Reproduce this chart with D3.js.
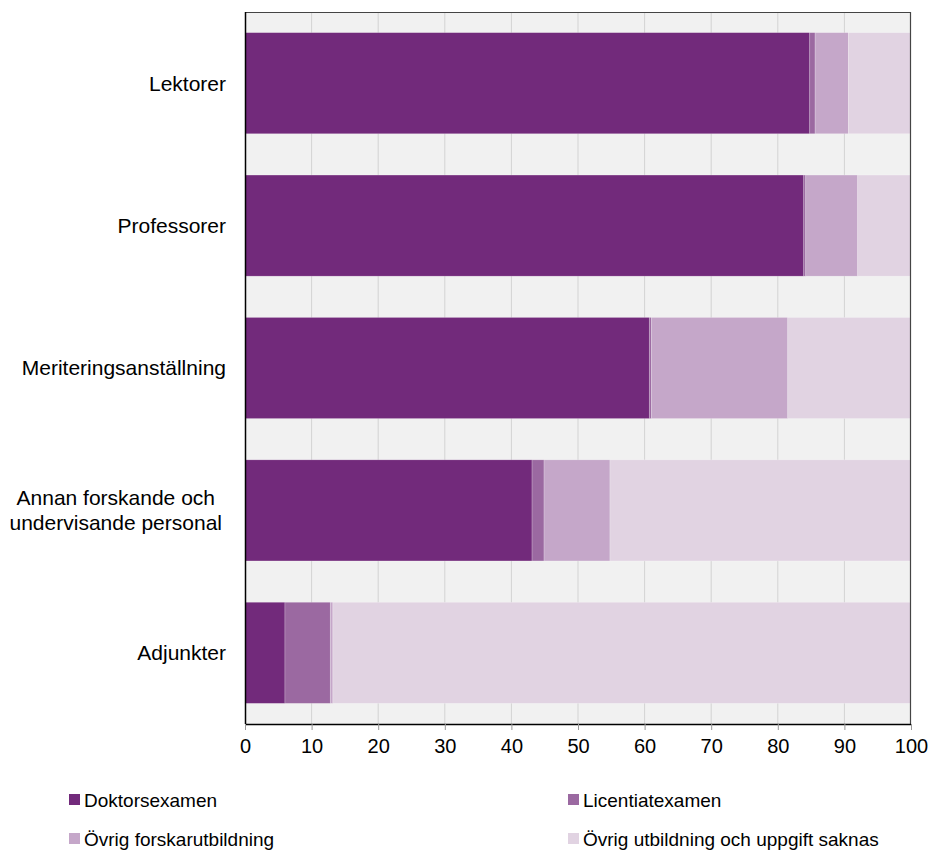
<!DOCTYPE html>
<html>
<head>
<meta charset="utf-8">
<script src="https://cdn.jsdelivr.net/npm/d3@7.9.0/dist/d3.min.js"></script>
<style>
  body { margin: 0; background: #fff; }
  svg { display: block; font-family: "Liberation Sans", Arial, sans-serif; }
</style>
</head>
<body>
<div id="chart"></div>
<script>
const categories = [
  "Lektorer",
  "Professorer",
  "Meriteringsanställning",
  "Annan forskande och undervisande personal",
  "Adjunkter",
];
const seriesNames = [
  "Doktorsexamen",
  "Licentiatexamen",
  "Övrig forskarutbildning",
  "Övrig utbildning och uppgift saknas",
];
const doktor = [84.8, 83.9, 60.7, 43.1, 6.0];
const licentiat = [0.8, 0.3, 0.3, 1.8, 6.8];
const forskar = [5.0, 7.8, 20.5, 9.9, 0.4];
const ovrig = [9.4, 8.0, 18.5, 45.2, 86.8];
const xTicks = [0, 10, 20, 30, 40, 50, 60, 70, 80, 90, 100];
const colors = ["#722a7b", "#9b69a1", "#c5a7c9", "#e1d3e2"];

const width = 930;
const height = 850;
const margin = { top: 12, right: 19, bottom: 126, left: 245 };
const innerW = width - margin.left - margin.right;
const innerH = height - margin.top - margin.bottom;

const rows = categories.map((c, i) => ({
  category: c,
  [seriesNames[0]]: doktor[i],
  [seriesNames[1]]: licentiat[i],
  [seriesNames[2]]: forskar[i],
  [seriesNames[3]]: ovrig[i],
}));
const stacked = d3.stack().keys(seriesNames)(rows);

const svg = d3.select("#chart").append("svg")
  .attr("width", width)
  .attr("height", height);

const g = svg.append("g")
  .attr("transform", `translate(${margin.left},${margin.top})`);

const x = d3.scaleLinear().domain([0, 100]).range([0, innerW]);
const y = d3.scaleBand().domain(categories).range([0, innerH])
  .paddingInner(0.29).paddingOuter(0.145);

// plot background
g.append("rect")
  .attr("width", innerW)
  .attr("height", innerH)
  .attr("fill", "#f1f1f1");

// vertical gridlines
g.append("g")
  .selectAll("line")
  .data(xTicks.slice(1, -1))
  .join("line")
  .attr("x1", (d) => x(d))
  .attr("x2", (d) => x(d))
  .attr("y1", 0)
  .attr("y2", innerH)
  .attr("stroke", "#d3d3d3")
  .attr("stroke-width", 1);

// bars
g.append("g")
  .selectAll("g")
  .data(stacked)
  .join("g")
  .attr("fill", (d, i) => colors[i])
  .selectAll("rect")
  .data((d) => d)
  .join("rect")
  .attr("x", (d) => x(d[0]))
  .attr("width", (d) => x(d[1]) - x(d[0]))
  .attr("y", (d) => y(d.data.category))
  .attr("height", y.bandwidth())
  .attr("stroke", "#ffffff")
  .attr("stroke-width", 0.6)
  .attr("stroke-opacity", 0.35);

// top and right frame
g.append("path")
  .attr("d", `M0,0.5H${innerW - 0.5}V${innerH}`)
  .attr("fill", "none")
  .attr("stroke", "#444")
  .attr("stroke-width", 1.2);

// x axis
const xAxis = g.append("g")
  .attr("transform", `translate(0,${innerH})`)
  .call(d3.axisBottom(x).tickValues(xTicks).tickSize(6).tickPadding(9));
xAxis.select(".domain").attr("stroke", "#000").attr("stroke-width", 1.5)
  .attr("d", `M0,0.5H${innerW}`);
xAxis.selectAll(".tick line").attr("stroke", "#999");
xAxis.selectAll(".tick text")
  .attr("font-size", 20)
  .attr("font-family", "'Liberation Sans', Arial, sans-serif")
  .attr("fill", "#000");

// y axis line
g.append("line")
  .attr("x1", 0.5).attr("x2", 0.5)
  .attr("y1", 0).attr("y2", innerH)
  .attr("stroke", "#000")
  .attr("stroke-width", 1.5);

// category labels (multi-line labels centred within their block)
const labelLines = {
  "Annan forskande och undervisande personal": ["Annan forskande och", "undervisande personal"],
};
const labelRight = -19;
const labels = g.append("g")
  .selectAll("text")
  .data(categories)
  .join("text")
  .attr("y", (d) => y(d) + y.bandwidth() / 2)
  .attr("font-size", 21)
  .attr("fill", "#000");
labels.each(function (d) {
  const lines = labelLines[d] || [d];
  const t = d3.select(this);
  if (lines.length === 1) {
    t.attr("text-anchor", "end").attr("x", labelRight).attr("dy", "0.35em").text(d);
    return;
  }
  t.attr("text-anchor", "middle");
  const spans = lines.map((line, i) =>
    t.append("tspan")
      .attr("dy", i === 0 ? `${0.35 - (lines.length - 1) * 0.6}em` : "1.2em")
      .text(line)
  );
  const maxW = d3.max(spans, (s) => s.node().getComputedTextLength());
  spans.forEach((s) => s.attr("x", labelRight - 4 - maxW / 2));
});

// legend
const legendPos = [
  [69, 800], [568, 800],
  [69, 839], [568, 839],
];
const legend = svg.append("g")
  .selectAll("g")
  .data(seriesNames)
  .join("g")
  .attr("transform", (d, i) => `translate(${legendPos[i][0]},${legendPos[i][1]})`);
legend.append("rect")
  .attr("x", 0)
  .attr("y", -6)
  .attr("width", 11)
  .attr("height", 11)
  .attr("fill", (d, i) => colors[i]);
legend.append("text")
  .attr("x", 15)
  .attr("y", 0)
  .attr("dy", "0.35em")
  .attr("font-size", 19)
  .attr("fill", "#000")
  .text((d) => d);
</script>
</body>
</html>
